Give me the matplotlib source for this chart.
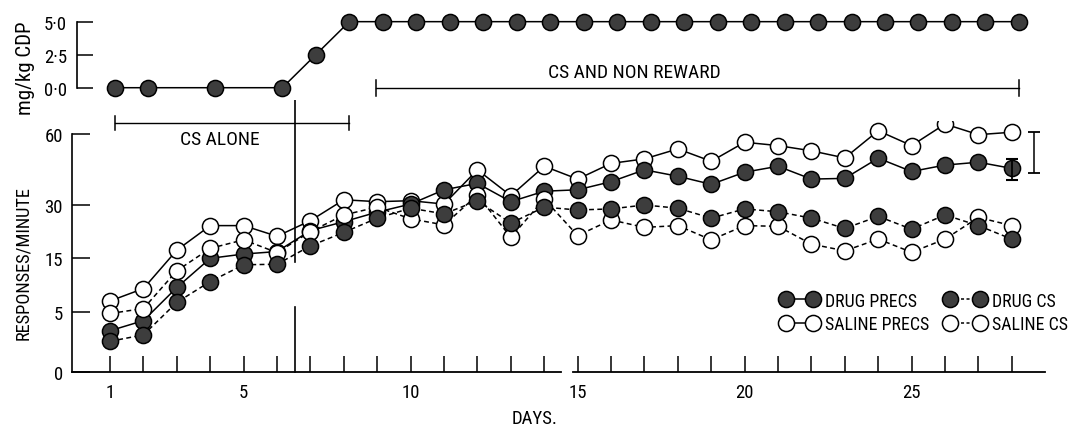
import numpy as np
import matplotlib
matplotlib.use('Agg')
import matplotlib.pyplot as plt
from matplotlib.lines import Line2D
from matplotlib.transforms import blended_transform_factory
from matplotlib import font_manager

_avail = {f.name for f in font_manager.fontManager.ttflist}
_prefs = ['Liberation Sans Narrow', 'DejaVu Sans Condensed', 'Roboto Condensed',
          'Open Sans Condensed', 'Liberation Sans', 'DejaVu Sans']
_fam = [f for f in _prefs if f in _avail]
if 'DejaVu Sans' not in _fam:
    _fam.append('DejaVu Sans')
plt.rcParams['font.family'] = _fam

# ---------------- data ----------------
days = [1, 2, 3, 4, 5, 6, 7, 8, 9, 10, 11, 12, 13, 14,
        15, 16, 17, 18, 19, 20, 21, 22, 23, 24, 25, 26, 27, 28]
drug_precs = [3.45, 4.3, 9.6, 15.0, 16.2, 16.9, 22.8, 25.3, 28.0, 30.4, 36.4, 39.1, 31.4, 35.8,
              36.4, 39.8, 44.8, 42.1, 38.7, 43.8, 46.3, 40.9, 41.2, 49.7, 44.1, 46.8, 48.0, 45.4]
drug_cs = [2.56, 3.1, 6.85, 10.7, 13.8, 13.9, 18.5, 22.3, 26.3, 29.1, 27.5, 31.8, 24.9, 29.4,
           28.6, 28.9, 30.0, 29.1, 26.3, 28.9, 28.1, 26.3, 23.4, 26.8, 23.2, 27.2, 24.2, 20.4]
saline_precs = [7.1, 9.4, 17.3, 24.2, 24.2, 21.2, 25.6, 32.2, 31.4, 31.8, 30.4, 44.8, 33.9, 46.3,
                40.9, 47.5, 49.4, 53.6, 48.4, 56.4, 55.0, 52.8, 49.8, 61.4, 55.0, 64.6, 59.6, 60.7]
saline_cs = [4.9, 5.7, 12.7, 17.8, 20.2, 16.6, 22.5, 27.2, 29.4, 26.1, 24.4, 34.2, 20.9, 32.5,
             21.4, 25.8, 23.7, 24.2, 20.2, 24.2, 24.0, 19.0, 17.1, 20.4, 16.7, 20.4, 26.5, 24.2]

dose_days = [1, 2, 4, 6, 7, 8, 9, 10, 11, 12, 13, 14, 15, 16, 17, 18, 19, 20,
             21, 22, 23, 24, 25, 26, 27, 28]
dose = [0.0, 0.0, 0.0, 0.0, 2.5, 5.0, 5.0, 5.0, 5.0, 5.0, 5.0, 5.0, 5.0, 5.0, 5.0, 5.0,
        5.0, 5.0, 5.0, 5.0, 5.0, 5.0, 5.0, 5.0, 5.0, 5.0]

# error bar on last drug PRECS point and separate range bar
err_day = 28
err_lo, err_hi = 40.5, 49.4
range_bar_day = 28.65
range_lo, range_hi = 43.5, 60.9

resp_ticks = [0, 5, 15, 30, 60]
resp_ticklabels = ['0', '5', '15', '30', '60']
dose_ticks = [0.0, 2.5, 5.0]
dose_ticklabels = ['0·0', '2·5', '5·0']
day_ticks = [1, 5, 10, 15, 20, 25]
day_ticklabels = ['1', '5', '10', '15', '20', '25']

cs_alone_span = (1, 8)
cs_nonreward_span = (8.8, 28)
drug_start_line = 6.53

labels_col1 = ['DRUG PRECS', 'SALINE PRECS']
labels_col2 = ['DRUG CS', 'SALINE CS']

# ---------------- figure ----------------
WPX, HPX = 1078, 431
fig = plt.figure(figsize=(WPX / 100, HPX / 100), dpi=100)
renderer = fig.canvas.get_renderer()


def fx(px):
    return px / WPX


def fy(py):
    return 1 - py / HPX


def fit_size(s, target_px, max_size, base=20.0):
    t = fig.text(0, 0, s, fontsize=base)
    w = t.get_window_extent(renderer).width
    t.remove()
    return min(max_size, base * target_px / w)


# nonlinear response axis (piecewise, following the printed tick spacing)
y_knots = [0, 5, 15, 30, 60, 100]
s_knots = [0, 59.4, 113.4, 166.7, 238.0, 322.0]


def fwd(v):
    return np.interp(v, y_knots, s_knots)


def inv(p):
    return np.interp(p, s_knots, y_knots)


ax = fig.add_axes([fx(72), fy(372.7), fx(1045.2 - 72), 250.6 / HPX])
ax_top = fig.add_axes([fx(76.8), fy(100.6), fx(975.6), 88.5 / HPX])

XL = (-0.14, 29.0)
FILL = '#3d3d3d'
MS = 11.6
MEW = 1.1
LW = 1.1
DASH = (0, (3.2, 2.2))

tick_fs = fit_size('60', 19, 13.5)

# ---- bottom panel ----
ax.set_yscale('function', functions=(fwd, inv))
ax.set_xlim(*XL)
ax.set_ylim(0, 66)

ax.plot(days, saline_precs, '-', color='black', lw=LW, marker='o', ms=MS,
        mfc='white', mec='black', mew=MEW, zorder=3)
ax.plot(days, drug_precs, '-', color='black', lw=LW, marker='o', ms=MS,
        mfc=FILL, mec='black', mew=MEW, zorder=4)
ax.plot(days, saline_cs, color='black', lw=LW, ls=DASH, marker='o', ms=MS,
        mfc='white', mec='black', mew=MEW, zorder=5)
ax.plot(days, drug_cs, color='black', lw=LW, ls=DASH, marker='o', ms=MS,
        mfc=FILL, mec='black', mew=MEW, zorder=6)

err_mid = (err_lo + err_hi) / 2
ax.errorbar([err_day], [err_mid], yerr=[[err_mid - err_lo], [err_hi - err_mid]],
            fmt='none', ecolor='black', elinewidth=1.3, capsize=4.3, capthick=1.5, zorder=7)
range_mid = (range_lo + range_hi) / 2
ax.errorbar([range_bar_day], [range_mid], yerr=[[range_mid - range_lo], [range_hi - range_mid]],
            fmt='none', ecolor='black', elinewidth=1.1, capsize=4.5, capthick=1.3, zorder=7,
            clip_on=False)

for s in ['top', 'right', 'bottom']:
    ax.spines[s].set_visible(False)
ax.spines['left'].set_bounds(0, 60)
ax.spines['left'].set_linewidth(1.2)

# broken x axis line
bt = blended_transform_factory(ax.transData, ax.transAxes)
ax.plot([XL[0], 14.49], [0, 0], color='black', lw=1.3, transform=bt, clip_on=False)
ax.plot([14.85, XL[1]], [0, 0], color='black', lw=1.3, transform=bt, clip_on=False)

ax.set_yticks(resp_ticks, resp_ticklabels)
ax.set_xticks(day_ticks, day_ticklabels)
ax.set_xticks([d for d in days if d not in day_ticks], minor=True)
ax.yaxis.set_minor_locator(matplotlib.ticker.NullLocator())
ax.tick_params(axis='y', direction='in', length=13, width=1.1, pad=6.5, labelsize=tick_fs)
ax.tick_params(axis='x', which='both', direction='in', length=11.5, width=1.1, pad=8,
               labelsize=tick_fs)

# ---- top panel ----
ax_top.set_xlim(*XL)
ax_top.set_ylim(-0.9, 5.8)
ax_top.plot(dose_days, dose, '-', color='black', lw=LW, marker='o', ms=MS,
            mfc=FILL, mec='black', mew=MEW, zorder=3)
for s in ['top', 'right', 'bottom']:
    ax_top.spines[s].set_visible(False)
ax_top.spines['left'].set_bounds(0, 5)
ax_top.spines['left'].set_linewidth(1.2)
ax_top.set_xticks([])
ax_top.set_yticks(dose_ticks, dose_ticklabels)
ax_top.tick_params(axis='y', direction='in', length=11.5, width=1.1, pad=7,
                   labelsize=fit_size('5·0', 24, 13.5))


# brackets
def bracket(a, x0, x1, y, cap):
    a.plot([x0, x1], [y, y], color='black', lw=1.0, clip_on=False)
    a.plot([x0, x0], [y - cap, y + cap], color='black', lw=1.1, clip_on=False)
    a.plot([x1, x1], [y - cap, y + cap], color='black', lw=1.1, clip_on=False)


bracket(ax_top, cs_alone_span[0], cs_alone_span[1], -2.7, 0.53)
bracket(ax_top, cs_nonreward_span[0], cs_nonreward_span[1], -0.02, 0.6)
ax_top.text(4.14, -3.9, 'CS ALONE', ha='center', va='center',
            fontsize=fit_size('CS ALONE', 80, 14), clip_on=False)
ax_top.text(16.5, 1.19, 'CS AND NON REWARD', ha='center', va='center',
            fontsize=fit_size('CS AND NON REWARD', 185, 14), clip_on=False)

# vertical line at start of drug
vt = blended_transform_factory(ax.transData, fig.transFigure)
ax.plot([drug_start_line] * 2, [fy(77), fy(262.7)], color='black', lw=1.2,
        transform=vt, clip_on=False)
ax.plot([drug_start_line] * 2, [fy(308), fy(372.7)], color='black', lw=1.2,
        transform=vt, clip_on=False)

# axis labels
fig.text(fx(23), fy(263), 'RESPONSES/MINUTE', rotation=90, ha='center', va='center',
         fontsize=fit_size('RESPONSES/MINUTE', 155, 15))
fig.text(fx(25.5), fy(68), 'mg/kg CDP', rotation=90, ha='center', va='center',
         fontsize=fit_size('mg/kg CDP', 94, 15))
fig.text(fx(535), fy(419), 'DAYS.', ha='center', va='center',
         fontsize=fit_size('DAYS.', 46, 14))

# legend (two columns placed where the reference has them)
leg_fs = min(fit_size('SALINE PRECS', 104, 14), fit_size('SALINE CS', 80, 14))
fs_px = leg_fs * 100 / 72.0


def handle(face, ls):
    return Line2D([], [], color='black', lw=LW, ls=ls, marker='o', ms=MS, mfc=face,
                  mec='black', mew=MEW)


h1 = [handle(FILL, '-'), handle('white', '-')]
h2 = [handle(FILL, (0, (2.0, 1.6))), handle('white', (0, (2.0, 1.6)))]
common = dict(ncol=1, numpoints=2, frameon=False, fontsize=leg_fs, handletextpad=0.4,
              labelspacing=0.3, borderpad=0, borderaxespad=0, loc='center left')
fig.legend(h1, labels_col1, handlelength=(27 + 0.6 * fs_px) / fs_px,
           bbox_to_anchor=(fx(786 - 0.3 * fs_px), fy(313.3)), **common)
fig.legend(h2, labels_col2, handlelength=(30 + 0.6 * fs_px) / fs_px,
           bbox_to_anchor=(fx(950 - 0.3 * fs_px), fy(313.3)), **common)

fig.savefig('out.png', dpi=100)
